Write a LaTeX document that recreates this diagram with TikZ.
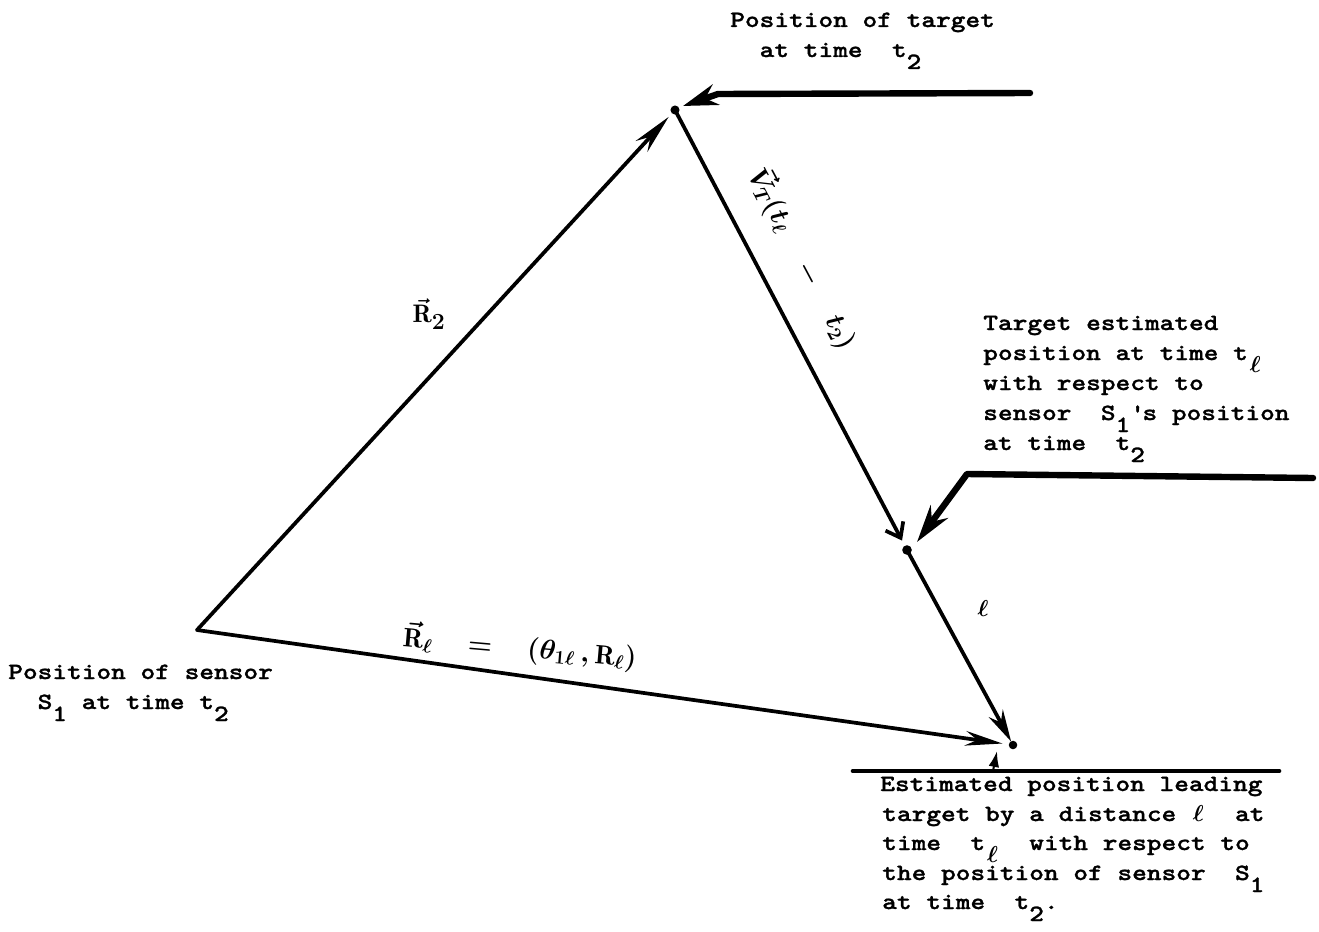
\documentclass[tikz,border=0pt]{standalone}
\usepackage{fontspec}
\newfontfamily\tw{lmmonolt10-bold}[Extension=.otf,FakeStretch=1.2,FakeBold=1.2]
\usetikzlibrary{arrows.meta}
\newcommand\lo[1]{\raisebox{-9pt}[0pt][0pt]{#1}}
\newcommand\el{\makebox[\fontcharwd\font`x][c]{\boldmath\(\ell\)}}
\begin{document}
\begin{tikzpicture}[x=0.75pt,y=-0.75pt,
  tt/.style={font=\tw\fontsize{17.5}{22}\selectfont, inner sep=0pt, anchor=base west},
  hw/.style={inner sep=0pt},
  vecline/.style={line width=2.8pt, line cap=round, line join=round},
  ptr/.style={line width=4.8pt, line cap=round, line join=round}]
\useasboundingbox (0,0) rectangle (1319,931);

% points
\coordinate (S) at (197,630);
\coordinate (T2) at (675,110);
\coordinate (TL) at (907,550);
\coordinate (E) at (1013,745);

% main vectors
\draw[vecline,-{Stealth[length=30pt,width=12pt]},shorten >=7pt] (S) -- (T2);
\draw[vecline,-{Straight Barb[length=10pt,width=15pt]},shorten >=8pt] (T2) -- (TL);
\draw[vecline,-{Stealth[length=24pt,width=12pt]},shorten >=3pt] (TL) -- (E);
\draw[vecline,-{Stealth[length=28pt,width=11pt]},shorten >=8pt] (S) -- (E);
\fill (T2) circle (3.4pt);
\fill (TL) circle (3.6pt);
\fill (E) circle (3.2pt);

% pointer to target at t2
\coordinate (p1a) at (1030,93);
\coordinate (p1b) at (718,94);
\coordinate (p1t) at (683,106);
\draw[ptr,-{Stealth[length=26pt,width=16pt]}] (p1a) -- (p1b) -- (p1t);

% pointer to estimated position at t_l
\coordinate (p2a) at (1313,478);
\coordinate (p2b) at (967,474);
\coordinate (p2t) at (917,542);
\draw[ptr,-{Stealth[length=28pt,width=16pt]}] (p2a) -- (p2b) -- (p2t);

% base line with small arrow to E
\coordinate (b3a) at (853,771);
\coordinate (b3b) at (1279,771);
\coordinate (b3s) at (993,771);
\coordinate (b3t) at (997,751);
\draw[line width=3.5pt,line cap=round] (b3a) -- (b3b);
\draw[line width=1.5pt,-{Latex[length=12pt,width=8pt]}] (b3s) -- (b3t);

% vector labels
\node[hw,font=\fontsize{19}{21}\selectfont\boldmath] (lR2) at (429,314) {\(\vec{\mathrm{R}}_{\textstyle 2}\)};
\node[hw,font=\fontsize{20}{22}\selectfont\boldmath,rotate=-5] (lRl) at (520,647)
  {\(\vec{\mathrm{R}}_{\ell}\;\;\;=\;\;\;(\theta_{1\ell}\,,\mathrm{R}_{\ell})\)};
\node[hw,font=\fontsize{22}{24}\selectfont\boldmath,rotate=-62] (lV) at (803,258)
  {\(\vec{V}_{T}(t_{\ell}\quad-\quad t_{2})\)};
\node[hw,font=\fontsize{18}{20}\selectfont\boldmath] (ll) at (983,608) {\(\ell\)};

% text: target at t2
\node[tt] (tg1) at (730,27) {Position of target};
\node[tt] (tg2) at (730,57) {\phantom{xx}at time\ \ t\lo{2}};

% text: sensor
\node[tt] (sn1) at (8,679) {Position of sensor};
\node[tt] (sn2) at (8,709) {\phantom{xx}S\lo{1} at time t\lo{2}};

% text: target estimated position
\node[tt] (es1) at (983,330) {Target estimated};
\node[tt] (es2) at (983,360) {position at time t\lo{\el}};
\node[tt] (es3) at (983,390) {with respect to};
\node[tt] (es4) at (983,420) {sensor\ \ S\lo{1}\textquotesingle s position};
\node[tt] (es5) at (983,450) {at time\ \ t\lo{2}};

% text: leading position
\node[tt] (ld1) at (880,791) {Estimated position leading};
\node[tt] (ld2) at (882,821) {target by a distance \el\ \ at};
\node[tt] (ld3) at (882,850) {time\ \ t\lo{\el}\ \ with respect to};
\node[tt] (ld4) at (882,880) {the position of sensor\ \ S\lo{1}};
\node[tt] (ld5) at (882,909) {at time\ \ t\lo{2}.};
\end{tikzpicture}
\end{document}
